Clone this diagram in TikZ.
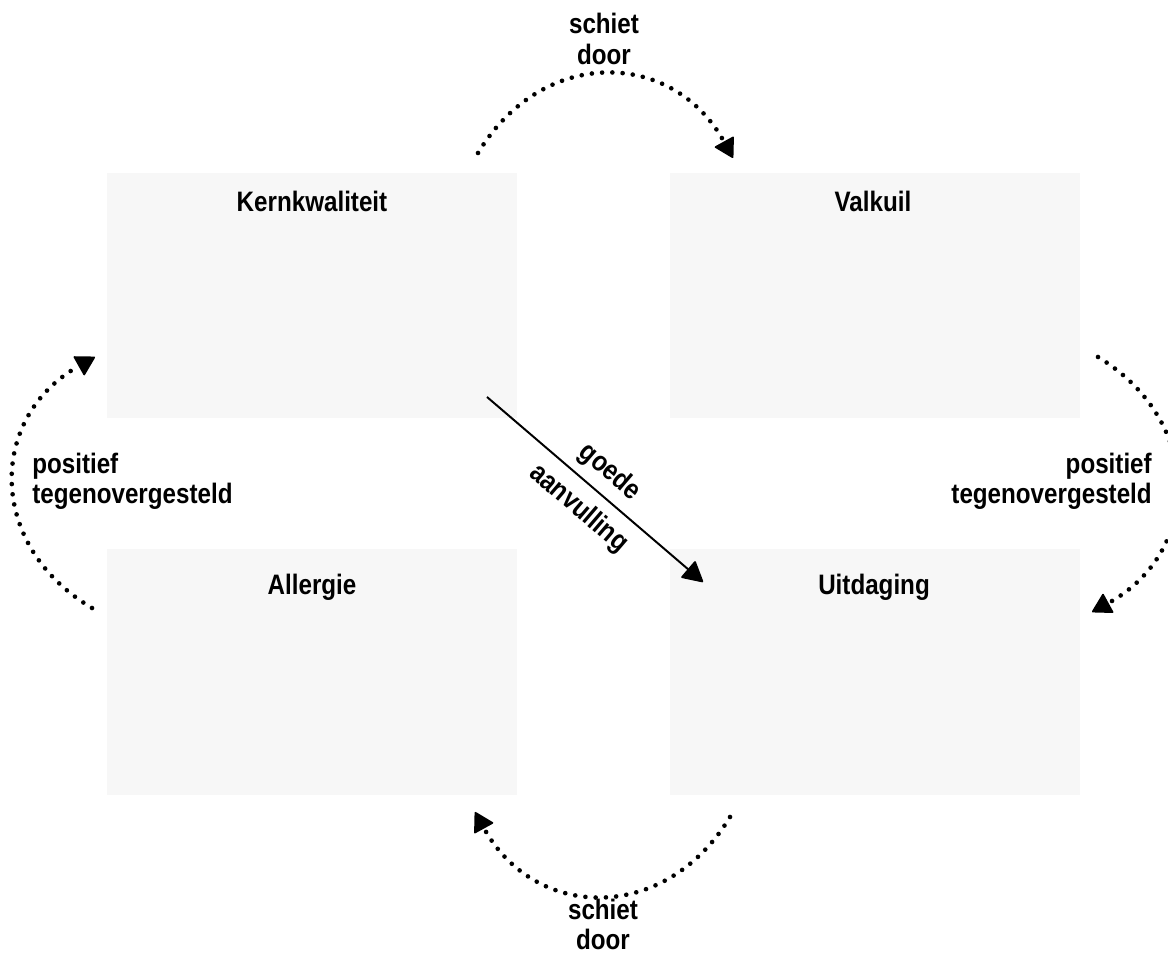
\documentclass[tikz,border=0pt]{standalone}
\usepackage{fontspec}
\setmainfont{Liberation Sans}[FakeStretch=0.86]
\usepackage{tikz}
\usetikzlibrary{arrows.meta, positioning, calc}
\definecolor{vakGrijs}{HTML}{F7F7F7}

\begin{document}
\begin{tikzpicture}[x=0.025cm, y=0.025cm,
      every node/.style={font=\fontsize{20}{21.5}\selectfont\bfseries},
      vak/.style={fill=vakGrijs, minimum width=10.25cm, minimum height=6.125cm, inner sep=0pt, outer sep=0pt},
      titel/.style={anchor=base, inner sep=0pt},
      lbl/.style={inner sep=0pt},
      stip/.style={line width=3.3pt, line cap=round, dash pattern=on 0pt off 7.3pt,
        -{Triangle[length=14pt, width=16pt, line width=1.2pt, round]},
        bend left=60, looseness=1.25}]
    \useasboundingbox (0,0) rectangle (1168,957);
    % vakken
    \node[vak] (kern)   at (312,661.5) {};
    \node[vak] (valk)   at (875,661.5) {};
    \node[vak] (allerg) at (312,285)   {};
    \node[vak] (uitdag) at (875,285)   {};
    \node[titel] (kernT)   at ($(kern.north)+(0,-39)$)   {Kernkwaliteit};
    \node[titel] (valkT)   at ($(valk.north)+(-2,-39)$)  {Valkuil};
    \node[titel] (allergT) at ($(allerg.north)+(0,-45)$) {Allergie};
    \node[titel] (uitdagT) at ($(uitdag.north)+(-1,-45)$) {Uitdaging};
    % uiteinden van de pijlen
    \coordinate (boA) at (478,804);
    \coordinate (boB) at (733,799);
    \coordinate (reA) at (1098,600);
    \coordinate (reB) at (1092,345);
    \coordinate (onA) at (730,140);
    \coordinate (onB) at (475,145);
    \coordinate (liA) at (92,349);
    \coordinate (liB) at (95,600);
    \coordinate (diA) at (487,560);
    \coordinate (diB) at (703,375);
    % gestippelde bogen
    \draw[stip] (boA) to (boB);
    \draw[stip] (reA) to (reB);
    \draw[stip] (onA) to (onB);
    \draw[stip] (liA) to (liB);
    % diagonaal
    \draw[line width=1.4pt, -{Triangle[length=15pt, width=16pt, round]}] (diA) --
      node[midway, sloped, above=6pt, inner sep=0pt] (goede) {goede}
      node[midway, sloped, below=8pt, inner sep=0pt] (aanv) {aanvulling} (diB);
    % teksten
    \node[lbl, align=center] (schietBo) at (604,918)  {schiet\\door};
    \node[lbl, align=center] (schietOn) at (603,32.5) {schiet\\door};
    \node[lbl, align=left, anchor=west]  (posLi) at (32,476)   {positief\\tegenovergesteld};
    \node[lbl, align=right, anchor=east] (posRe) at (1152,476) {positief\\tegenovergesteld};
  \end{tikzpicture}
\end{document}
